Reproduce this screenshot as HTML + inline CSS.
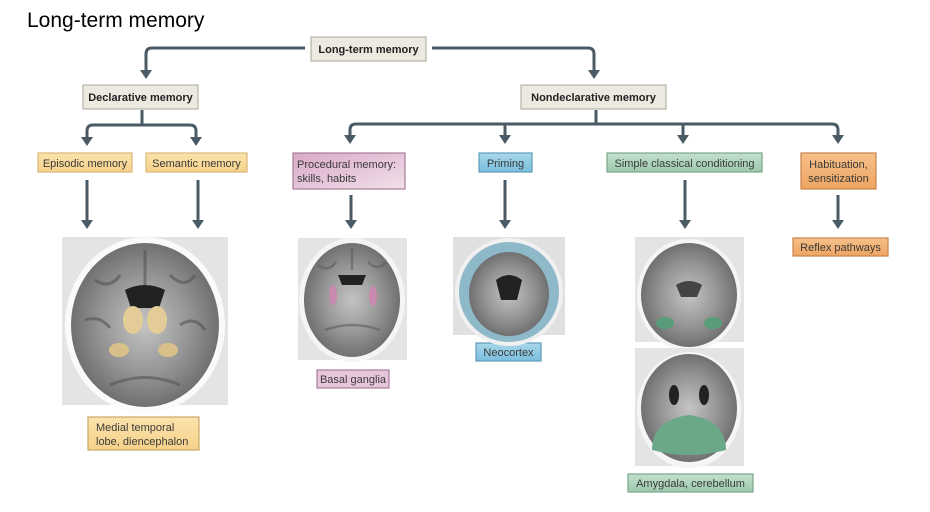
<!DOCTYPE html>
<html><head><meta charset="utf-8"><style>
html,body{margin:0;padding:0;background:#fff;}
svg{display:block}
text{font-family:"Liberation Sans",sans-serif;}
</style></head><body>
<svg width="930" height="512" viewBox="0 0 930 512" xmlns="http://www.w3.org/2000/svg">
<defs>
<radialGradient id="br" cx="50%" cy="50%" r="50%">
<stop offset="0" stop-color="#c4c4c4"/><stop offset="0.6" stop-color="#959595"/><stop offset="1" stop-color="#707070"/>
</radialGradient>
<linearGradient id="pk" x1="0" y1="0" x2="1" y2="1"><stop offset="0" stop-color="#d9a9c9"/><stop offset="1" stop-color="#f1e0ea"/></linearGradient>
<linearGradient id="bl" x1="0" y1="0" x2="0" y2="1"><stop offset="0" stop-color="#a9d8ea"/><stop offset="1" stop-color="#79bede"/></linearGradient>
<linearGradient id="gr" x1="0" y1="0" x2="0" y2="1"><stop offset="0" stop-color="#c4e0cc"/><stop offset="1" stop-color="#9cc9ad"/></linearGradient>
<linearGradient id="or" x1="0" y1="0" x2="0" y2="1"><stop offset="0" stop-color="#f6c18a"/><stop offset="1" stop-color="#eea461"/></linearGradient>
<linearGradient id="ye" x1="0" y1="0" x2="0" y2="1"><stop offset="0" stop-color="#fbe3ad"/><stop offset="1" stop-color="#f6d189"/></linearGradient>
</defs>
<text x="27" y="27" font-size="21" fill="#000">Long-term memory</text>

<g stroke="#4b5b66" stroke-width="3" fill="none">
<path d="M305 48 H152 Q146 48 146 54 V72"/>
<path d="M432 48 H588 Q594 48 594 54 V72"/>
<path d="M142 110 V125"/>
<path d="M87 139 V131 Q87 125 93 125 H190 Q196 125 196 131 V139"/>
<path d="M596 110 V124"/>
<path d="M350 137 V130 Q350 124 356 124 H832 Q838 124 838 130 V137"/>
<path d="M505 124 V137"/><path d="M683 124 V137"/>
<path d="M87 180 V222"/><path d="M198 180 V222"/>
<path d="M351 195 V222"/><path d="M505 180 V222"/>
<path d="M685 180 V222"/><path d="M838 195 V222"/>
</g>
<g fill="#4b5b66">
<path d="M140 70 h12 l-6 9z"/><path d="M588 70 h12 l-6 9z"/>
<path d="M81 137 h12 l-6 9z"/><path d="M190 137 h12 l-6 9z"/>
<path d="M344 135 h12 l-6 9z"/><path d="M499 135 h12 l-6 9z"/><path d="M677 135 h12 l-6 9z"/><path d="M832 135 h12 l-6 9z"/>
<path d="M81 220 h12 l-6 9z"/><path d="M192 220 h12 l-6 9z"/><path d="M345 220 h12 l-6 9z"/><path d="M499 220 h12 l-6 9z"/><path d="M679 220 h12 l-6 9z"/><path d="M832 220 h12 l-6 9z"/>
</g>

<g stroke="#b9b3a6" stroke-width="1.2">
<rect x="311" y="37" width="115" height="24" fill="#ece9e1"/>
<rect x="83" y="85" width="115" height="24" fill="#ece9e1"/>
<rect x="521" y="85" width="145" height="24" fill="#ece9e1"/>
</g>
<g font-size="11" font-weight="bold" fill="#222">
<text x="368.5" y="53" text-anchor="middle">Long-term memory</text>
<text x="140.5" y="101" text-anchor="middle">Declarative memory</text>
<text x="593.5" y="101" text-anchor="middle">Nondeclarative memory</text>
</g>

<g stroke-width="1.2">
<rect x="38" y="153" width="94" height="19" fill="url(#ye)" stroke="#d8b878"/>
<rect x="146" y="153" width="101" height="19" fill="url(#ye)" stroke="#d8b878"/>
<rect x="293" y="153" width="112" height="36" fill="url(#pk)" stroke="#a77c97"/>
<rect x="479" y="153" width="53" height="19" fill="url(#bl)" stroke="#5e9cb8"/>
<rect x="607" y="153" width="155" height="19" fill="url(#gr)" stroke="#7ba58b"/>
<rect x="801" y="153" width="75" height="36" fill="url(#or)" stroke="#c88449"/>
<rect x="793" y="238" width="95" height="18" fill="url(#or)" stroke="#c88449"/>
<rect x="88" y="417" width="111" height="33" fill="url(#ye)" stroke="#c8a868"/>
<rect x="317" y="370" width="72" height="18" fill="#e7c5da" stroke="#a77c97"/>
<rect x="476" y="343" width="65" height="18" fill="url(#bl)" stroke="#5e9cb8"/>
<rect x="628" y="474" width="125" height="18" fill="url(#gr)" stroke="#7ba58b"/>
</g>
<g font-size="11" fill="#3a3a3a">
<text x="85" y="167" text-anchor="middle">Episodic memory</text>
<text x="196.5" y="167" text-anchor="middle">Semantic memory</text>
<text x="297" y="168">Procedural memory:</text>
<text x="297" y="182">skills, habits</text>
<text x="505.5" y="167" text-anchor="middle">Priming</text>
<text x="684.5" y="167" text-anchor="middle">Simple classical conditioning</text>
<text x="838.5" y="168" text-anchor="middle">Habituation,</text>
<text x="838.5" y="182" text-anchor="middle">sensitization</text>
<text x="840.5" y="251" text-anchor="middle">Reflex pathways</text>
<text x="96" y="431">Medial temporal</text>
<text x="96" y="445">lobe, diencephalon</text>
<text x="353" y="383" text-anchor="middle">Basal ganglia</text>
<text x="508.5" y="356" text-anchor="middle">Neocortex</text>
<text x="690.5" y="487" text-anchor="middle">Amygdala, cerebellum</text>
</g>

<g>
<rect x="62" y="237" width="166" height="168" fill="#e4e4e4"/>
<ellipse cx="145" cy="325" rx="80" ry="88" fill="#fafafa"/>
<ellipse cx="145" cy="325" rx="74" ry="82" fill="url(#br)"/>
<g stroke="#555" stroke-width="3" fill="none" opacity="0.6">
<path d="M145 250 V285"/><path d="M95 280 q15 10 25 -5"/><path d="M170 275 q15 15 25 0"/><path d="M85 320 q15 -5 25 8"/><path d="M180 325 q15 -10 25 5"/><path d="M110 385 q35 -15 70 0"/>
</g>
<path d="M125 290 q20 -10 40 0 l-6 18 h-28z" fill="#222"/>
<ellipse cx="133" cy="320" rx="10" ry="14" fill="#e4cc98"/><ellipse cx="157" cy="320" rx="10" ry="14" fill="#e4cc98"/>
<ellipse cx="119" cy="350" rx="10" ry="7" fill="#d9c08a"/><ellipse cx="168" cy="350" rx="10" ry="7" fill="#d9c08a"/>

<rect x="298" y="238" width="109" height="122" fill="#e4e4e4"/>
<ellipse cx="352" cy="300" rx="53" ry="62" fill="#f5f5f5"/>
<ellipse cx="352" cy="300" rx="48" ry="57" fill="url(#br)"/>
<g stroke="#555" stroke-width="2.5" fill="none" opacity="0.5">
<path d="M352 248 V270"/><path d="M318 265 q10 8 18 -3"/><path d="M368 262 q10 10 18 0"/><path d="M325 330 q27 -10 55 0"/>
</g>
<path d="M338 275 h28 l-4 10 h-20z" fill="#222"/>
<ellipse cx="333" cy="295" rx="4" ry="10" fill="#c98ab0"/><ellipse cx="373" cy="296" rx="4" ry="10" fill="#c98ab0"/>

<rect x="453" y="237" width="112" height="98" fill="#e0e0e0"/>
<ellipse cx="509" cy="292" rx="54" ry="54" fill="#f0f0f0"/>
<ellipse cx="509" cy="292" rx="50" ry="50" fill="#8db9c9"/>
<ellipse cx="509" cy="294" rx="40" ry="42" fill="url(#br)"/>
<path d="M496 280 q13 -10 26 0 l-5 20 h-16z" fill="#222"/>

<rect x="635" y="237" width="109" height="105" fill="#e4e4e4"/>
<ellipse cx="689" cy="295" rx="52" ry="56" fill="#f5f5f5"/>
<ellipse cx="689" cy="295" rx="48" ry="52" fill="url(#br)"/>
<path d="M676 285 q13 -8 26 0 l-5 12 h-16z" fill="#444"/>
<ellipse cx="665" cy="323" rx="9" ry="6" fill="#5a9c7a"/><ellipse cx="713" cy="323" rx="9" ry="6" fill="#5a9c7a"/>

<rect x="635" y="348" width="109" height="118" fill="#e4e4e4"/>
<ellipse cx="689" cy="410" rx="52" ry="58" fill="#f5f5f5"/>
<ellipse cx="689" cy="408" rx="48" ry="54" fill="url(#br)"/>
<ellipse cx="674" cy="395" rx="5" ry="10" fill="#222"/><ellipse cx="704" cy="395" rx="5" ry="10" fill="#222"/>
<path d="M652 450 q0 -30 37 -35 q37 5 37 35 q-37 10 -74 0z" fill="#6aa888"/>
</g>
</svg>
</body></html>
